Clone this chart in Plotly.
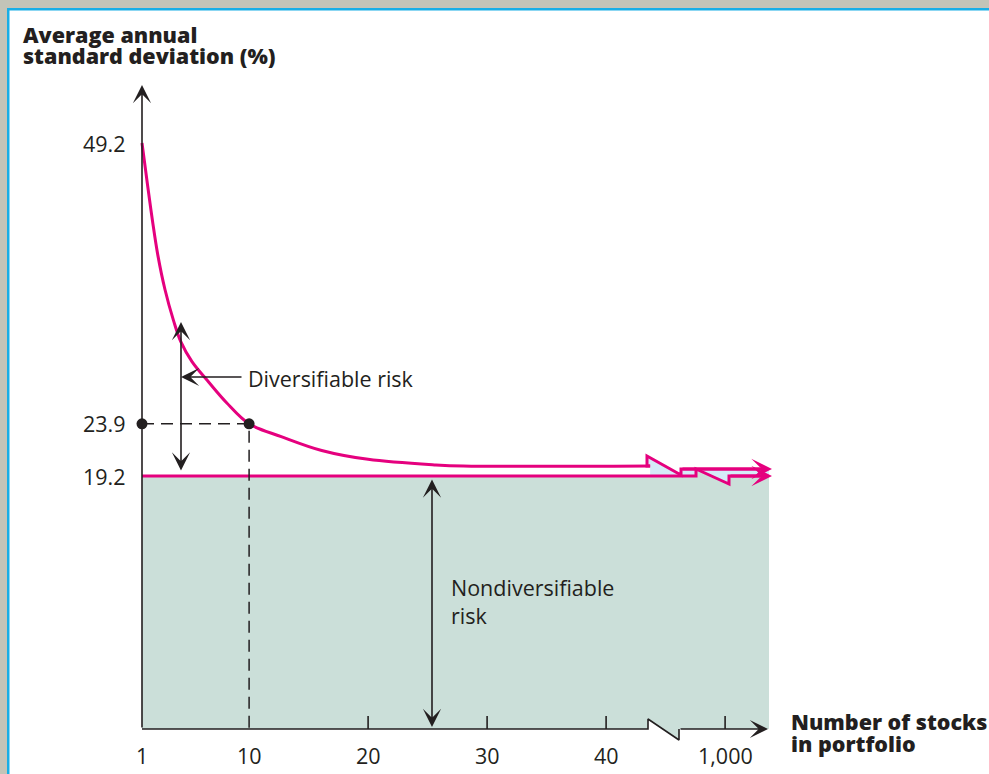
import plotly.graph_objects as go

# values
stocks = [1, 1.48, 1.88, 2.33, 2.93, 3.65, 4.26, 5.2, 6.65, 8.11, 10, 12.7, 16.1, 20, 25.7, 28, 43.7]
std_dev = [49.2, 45.3, 42.2, 39.1, 36.0, 33.2, 31.3, 29.5, 27.6, 25.8, 23.9, 22.75, 21.5, 20.7, 20.2, 20.1, 20.1]
market_risk = 19.2
marked_stocks = 10
marked_std = 23.9

x_tick_pos = [1, 10, 20, 30, 40, 50]
x_tick_text = ["1", "10", "20", "30", "40", "1,000"]
x_tick_marks = [20, 30, 40, 50]
y_tick_vals = [49.2, 23.9, 19.2]

PINK = "#e5007e"
INK = "#231f20"
BLUE_FILL = "#d5ebf8"
GRAY_FILL = "#cbdfd9"
FONT = "Open Sans"

W, H = 989, 774
PX_X = 11.9  # pixels per stock
PX_Y = 11.1  # pixels per percent


def px_x(p):
    return 1 + (p - 142) / PX_X


def px_y(p):
    return market_risk + (476 - p) / PX_Y


def brk(xa, xb, level, rise, drop, resume):
    # axis-break zigzag, offsets in pixels
    return ([xa, xa, xb, xb],
            [level, level + rise / PX_Y, level - drop / PX_Y, level - resume / PX_Y])


y_base = px_y(729)
x_fill_end = px_x(769)
x_line_tip = px_x(772)

ub_x, ub_y = brk(px_x(647), px_x(681), std_dev[-1], 10, 9, 3)
lb_x, lb_y = brk(px_x(696), px_x(729), market_risk, 7, 8, 0)
ab_x, ab_y = brk(px_x(648), px_x(679), y_base, 10, 11, 0)

fig = go.Figure()

# gray area (nondiversifiable)
gx = [1] + ab_x + [x_fill_end, x_fill_end] + lb_x[::-1] + [1]
gy = [y_base] + ab_y + [y_base, market_risk] + lb_y[::-1] + [market_risk]
fig.add_trace(go.Scatter(x=gx, y=gy, fill="toself", fillcolor=GRAY_FILL,
                         mode="none", hoverinfo="skip"))

# blue area (diversifiable): under the smooth curve
fig.add_trace(go.Scatter(x=[stocks[0], stocks[-1]], y=[market_risk, market_risk],
                         mode="none", hoverinfo="skip"))
fig.add_trace(go.Scatter(x=stocks, y=std_dev, mode="none", line_shape="spline",
                         fill="tonexty", fillcolor=BLUE_FILL, hoverinfo="skip"))
# and through the break
bx = [stocks[-1]] + ub_x + [x_fill_end, x_fill_end] + lb_x[::-1] + [stocks[-1]]
by = [std_dev[-1]] + ub_y + [ub_y[-1], market_risk] + lb_y[::-1] + [market_risk]
fig.add_trace(go.Scatter(x=bx, y=by, fill="toself", fillcolor=BLUE_FILL,
                         mode="none", hoverinfo="skip"))

# pink lines
fig.add_trace(go.Scatter(x=stocks, y=std_dev, mode="lines", line_shape="spline",
                         line=dict(color=PINK, width=3), hoverinfo="skip"))
fig.add_trace(go.Scatter(x=[stocks[-1]] + ub_x + [x_line_tip - 1], y=[std_dev[-1]] + ub_y + [ub_y[-1]],
                         mode="lines", line=dict(color=PINK, width=3), hoverinfo="skip"))
fig.add_trace(go.Scatter(x=[1] + lb_x + [x_line_tip - 1], y=[market_risk] + lb_y + [market_risk],
                         mode="lines", line=dict(color=PINK, width=3), hoverinfo="skip"))

# x axis with break
fig.add_trace(go.Scatter(x=[1] + ab_x, y=[y_base] + ab_y, mode="lines",
                         line=dict(color=INK, width=1.6), hoverinfo="skip"))

# tick marks
tx, ty = [], []
for t in x_tick_marks:
    tx += [t, t, None]
    ty += [y_base, y_base + 13 / PX_Y, None]
fig.add_trace(go.Scatter(x=tx, y=ty, mode="lines", line=dict(color=INK, width=1.6),
                         hoverinfo="skip"))

# dashed guides to the 10-stock point
fig.add_trace(go.Scatter(x=[1, marked_stocks, marked_stocks], y=[marked_std, marked_std, y_base],
                         mode="lines", line=dict(color=INK, width=1.5, dash="12px,7px"),
                         hoverinfo="skip"))
fig.add_trace(go.Scatter(x=[1, marked_stocks], y=[marked_std, marked_std], mode="markers",
                         marker=dict(color=INK, size=11), hoverinfo="skip", cliponaxis=False))


def arrow(x0, y0, x1, y1, color=INK, width=1.6, size=1.9, both=False):
    return dict(x=x1, y=y1, ax=x0, ay=y0, xref="x", yref="y", axref="x", ayref="y",
                text="", showarrow=True, arrowhead=3, arrowsize=size, arrowwidth=width,
                arrowcolor=color, arrowside="end+start" if both else "end",
                startarrowhead=3, startarrowsize=size, standoff=0, startstandoff=0)


ann = [
    arrow(1, y_base, 1, px_y(85)),
    arrow(ab_x[-1], y_base, px_x(768), y_base),
    arrow(ub_x[-1], ub_y[-1], x_line_tip, ub_y[-1], PINK, 3, 1.15),
    arrow(lb_x[-1], market_risk, x_line_tip, market_risk, PINK, 3, 1.15),
    arrow(px_x(181), px_y(472), px_x(181), px_y(322), both=True),
    arrow(px_x(243), px_y(377), px_x(181), px_y(377)),
    arrow(px_x(432), px_y(478), px_x(432), px_y(727), both=True),
]

txt = dict(family=FONT, size=21.5, color=INK)
bold = dict(family=FONT, size=21.5, color=INK, weight=800)

for v in y_tick_vals:
    ann.append(dict(x=1, y=v, xref="x", yref="y", text=f"{v:.1f}", showarrow=False,
                    xanchor="right", yanchor="middle", xshift=-14, font=txt))
for p, t in zip(x_tick_pos, x_tick_text):
    ann.append(dict(x=p, y=y_base, xref="x", yref="y", text=t, showarrow=False,
                    xanchor="center", yanchor="middle", yshift=-26, font=txt))

ann += [
    dict(x=px_x(246), y=px_y(378), xref="x", yref="y", text="Diversifiable risk",
         showarrow=False, xanchor="left", yanchor="middle", font=txt),
    dict(x=px_x(449), y=px_y(601), xref="x", yref="y", text="Nondiversifiable<br>risk",
         showarrow=False, xanchor="left", yanchor="middle", align="left", font=txt),
    dict(x=21 / W, y=1 - 34 / H, xref="paper", yref="paper", text="Average annual",
         showarrow=False, xanchor="left", yanchor="middle", font=bold),
    dict(x=21 / W, y=1 - 55 / H, xref="paper", yref="paper", text="standard deviation (%)",
         showarrow=False, xanchor="left", yanchor="middle", font=bold),
    dict(x=789 / W, y=1 - 721 / H, xref="paper", yref="paper", text="Number of stocks",
         showarrow=False, xanchor="left", yanchor="middle", font=bold),
    dict(x=789 / W, y=1 - 743 / H, xref="paper", yref="paper", text="in portfolio",
         showarrow=False, xanchor="left", yanchor="middle", font=bold),
]

# page frame (gray band + cyan rule along top and left)
shapes = [
    dict(type="rect", xref="paper", yref="paper", x0=960 / W, x1=1.02, y0=1 - 700 / H, y1=1 - 10.5 / H,
         fillcolor="white", line_width=0, layer="above"),
    dict(type="rect", xref="paper", yref="paper", x0=0, x1=1.02, y0=1 - 8 / H, y1=1,
         fillcolor="#c3c4b8", line_width=0, layer="above"),
    dict(type="rect", xref="paper", yref="paper", x0=0, x1=7 / W, y0=0, y1=1,
         fillcolor="#c3c4b8", line_width=0, layer="above"),
    dict(type="rect", xref="paper", yref="paper", x0=7 / W, x1=9.5 / W, y0=0, y1=1 - 8 / H,
         fillcolor="#18aee6", line_width=0, layer="above"),
    dict(type="rect", xref="paper", yref="paper", x0=7 / W, x1=1.02, y0=1 - 10.5 / H, y1=1 - 8 / H,
         fillcolor="#18aee6", line_width=0, layer="above"),
]

fig.update_layout(
    width=W, height=H,
    margin=dict(l=0, r=0, t=0, b=0),
    paper_bgcolor="white", plot_bgcolor="white",
    showlegend=False,
    xaxis=dict(range=[px_x(0), px_x(W)], visible=False, fixedrange=True),
    yaxis=dict(range=[px_y(H), px_y(0)], visible=False, fixedrange=True),
    annotations=ann,
    shapes=shapes,
)

fig.write_html("out.html", config={"displayModeBar": False},
               post_script="document.body.style.margin='0';document.body.style.overflow='hidden';")
